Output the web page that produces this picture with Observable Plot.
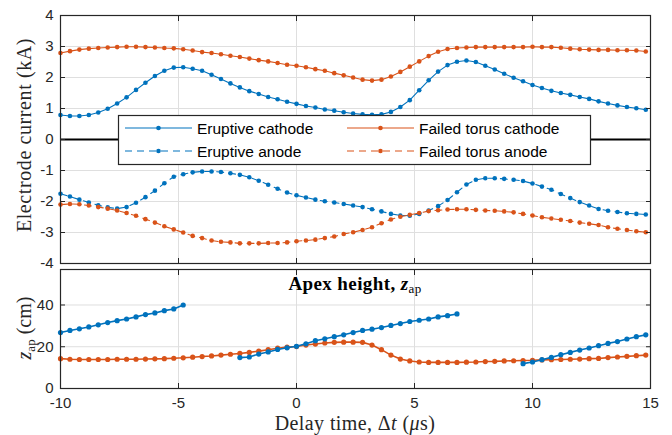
<!DOCTYPE html>
<html><head><meta charset="utf-8">
<script src="https://cdn.jsdelivr.net/npm/d3@7"></script>
<script src="https://cdn.jsdelivr.net/npm/@observablehq/plot@0.6"></script>
<style>
body{margin:0;background:#fff;}
#chart{position:relative;width:672px;height:435px;overflow:hidden;}
#chart svg{display:block;}
</style></head><body><div id="chart"></div>
<script>
// Delay time (μs)
const t = [-10,-9.6,-9.2,-8.8,-8.4,-8.0,-7.6,-7.2,-6.8,-6.4,-6.0,-5.6,-5.2,-4.8,-4.4,-4.0,-3.6,-3.2,-2.8,-2.4,-2.0,-1.6,
  -1.2,-0.8,-0.4,0,0.4,0.8,1.2,1.6,2.0,2.4,2.8,3.2,3.6,4.0,4.4,4.8,5.2,5.6,6.0,6.4,6.8,
  7.2,7.6,8.0,8.4,8.8,9.2,9.6,10.0,10.4,10.8,11.2,11.6,12.0,12.4,12.8,13.2,13.6,14.0,14.4,14.8];

// Electrode current (kA)
const eruptiveCathode = [0.79,0.76,0.76,0.79,0.87,0.99,1.16,1.36,1.60,1.83,2.05,2.22,2.32,2.33,2.28,2.22,2.09,1.95,1.81,1.68,1.56,1.47,
  1.37,1.30,1.22,1.15,1.08,1.03,0.97,0.93,0.88,0.84,0.81,0.80,0.81,0.89,1.05,1.27,1.59,1.91,2.19,2.40,2.51,
  2.55,2.50,2.38,2.26,2.12,1.99,1.88,1.76,1.66,1.57,1.50,1.44,1.37,1.31,1.23,1.16,1.10,1.05,1.01,0.96];
const eruptiveAnode = [-1.75,-1.84,-1.94,-2.03,-2.12,-2.19,-2.23,-2.18,-2.04,-1.86,-1.65,-1.41,-1.20,-1.12,-1.06,-1.03,-1.03,-1.05,-1.09,-1.14,-1.22,-1.33,
  -1.46,-1.59,-1.71,-1.80,-1.87,-1.94,-1.99,-2.03,-2.08,-2.13,-2.18,-2.25,-2.32,-2.40,-2.45,-2.46,-2.40,-2.29,-2.15,-1.95,-1.70,
  -1.45,-1.30,-1.25,-1.25,-1.27,-1.30,-1.34,-1.42,-1.52,-1.62,-1.76,-1.89,-2.02,-2.13,-2.24,-2.30,-2.34,-2.38,-2.40,-2.42];
const failedCathode = [2.79,2.85,2.90,2.93,2.95,2.97,2.98,2.99,2.99,2.98,2.97,2.95,2.94,2.91,2.87,2.82,2.79,2.75,2.70,2.66,2.61,2.56,
  2.52,2.47,2.41,2.38,2.33,2.27,2.22,2.14,2.07,2.00,1.93,1.90,1.93,2.03,2.18,2.35,2.52,2.69,2.83,2.92,2.95,
  2.97,2.98,2.98,2.98,2.98,2.98,2.98,2.99,2.98,2.98,2.96,2.93,2.91,2.90,2.89,2.89,2.88,2.88,2.87,2.84];
const failedAnode = [-2.10,-2.08,-2.09,-2.13,-2.18,-2.23,-2.29,-2.37,-2.46,-2.57,-2.68,-2.80,-2.90,-3.00,-3.11,-3.18,-3.26,-3.30,-3.32,-3.35,-3.35,-3.35,
  -3.34,-3.34,-3.32,-3.28,-3.26,-3.23,-3.18,-3.13,-3.05,-2.99,-2.92,-2.83,-2.70,-2.58,-2.49,-2.43,-2.37,-2.31,-2.28,-2.26,-2.25,
  -2.25,-2.27,-2.29,-2.30,-2.32,-2.35,-2.40,-2.45,-2.51,-2.55,-2.59,-2.63,-2.68,-2.72,-2.76,-2.83,-2.88,-2.92,-2.96,-2.99];

// Apex height z_ap (cm)
const eruptiveApex = [26.8,27.8,28.6,29.5,30.5,31.6,32.5,33.3,34.3,35.4,36.2,37.3,38.1,40.0,null,null,null,null,null,14.8,15.1,16.5,
  17.5,18.7,19.5,20.2,21.4,22.9,23.8,24.8,25.7,26.8,27.8,28.4,29.2,30.2,31.1,32.1,32.7,33.3,34.3,34.9,35.7,
  null,null,null,null,null,null,11.9,12.7,13.8,14.9,16.2,17.3,18.4,19.4,20.5,21.6,22.5,23.7,24.8,25.7];
const failedApex = [14.3,14.0,13.9,13.9,13.9,13.9,14.0,14.0,14.0,14.1,14.2,14.3,14.5,14.7,15.0,15.3,15.6,16.0,16.4,16.8,17.3,17.9,
  18.6,19.3,19.8,20.1,20.8,21.3,21.8,22.1,22.2,22.2,22.1,20.8,18.6,16.0,14.1,13.2,12.7,12.5,12.5,12.5,12.5,
  12.6,12.7,12.9,13.0,13.2,13.3,13.4,13.5,13.7,13.8,13.9,14.0,14.1,14.3,14.4,14.8,15.1,15.4,15.7,16.0];

const seriesNames = ["Eruptive cathode","Eruptive anode","Failed torus cathode","Failed torus anode"];
const xTicks = [-10,-5,0,5,10,15];
const xTickLabels = ["-10","-5","0","5","10","15"];
const currentTicks = [-4,-3,-2,-1,0,1,2,3,4];
const currentTickLabels = ["-4","-3","-2","-1","0","1","2","3","4"];
const apexTicks = [0,20,40];
const apexTickLabels = ["0","20","40"];

const blue = "#0072BD", orange = "#D95319", gridC = "#dfdfdf", axisC = "#262626";
const rows = (vals) => t.map((x, i) => ({t: x, v: vals[i]}));

const baseStyle = {fontFamily: "'Liberation Sans', Arial, sans-serif", fontSize: "15px", color: axisC, background: "transparent", overflow: "visible"};
const noLbl = () => "";

function innerTicks(yTicks) {
  return [
    Plot.axisY(yTicks, {anchor: "left", tickSize: -5, tickFormat: noLbl, label: null, stroke: axisC}),
    Plot.axisY(yTicks, {anchor: "right", tickSize: -5, tickFormat: noLbl, label: null, stroke: axisC}),
    Plot.axisX(xTicks, {anchor: "bottom", tickSize: -5, tickFormat: noLbl, label: null, stroke: axisC}),
    Plot.axisX(xTicks, {anchor: "top", tickSize: -5, tickFormat: noLbl, label: null, stroke: axisC})
  ];
}

const lineOpt = (color, dash) => ({x: "t", y: "v", stroke: color, strokeWidth: 1.1, strokeDasharray: dash});
const dotOpt = (color, r) => ({x: "t", y: "v", fill: color, r: r});

const topPlot = Plot.plot({
  width: 672, height: 266,
  marginLeft: 60, marginRight: 22, marginTop: 15, marginBottom: 3,
  x: {domain: [-10, 15], label: null},
  y: {domain: [-4, 4], label: null},
  style: baseStyle,
  marks: [
    Plot.gridX(xTicks, {stroke: gridC, strokeOpacity: 1}),
    Plot.gridY(currentTicks, {stroke: gridC, strokeOpacity: 1}),
    Plot.ruleY([0], {stroke: "#000", strokeWidth: 2}),
    Plot.line(rows(eruptiveCathode), lineOpt(blue, null)),
    Plot.dot(rows(eruptiveCathode), dotOpt(blue, 2.3)),
    Plot.line(rows(eruptiveAnode), lineOpt(blue, "7,5")),
    Plot.dot(rows(eruptiveAnode), dotOpt(blue, 2.3)),
    Plot.line(rows(failedCathode), lineOpt(orange, null)),
    Plot.dot(rows(failedCathode), dotOpt(orange, 2.3)),
    Plot.line(rows(failedAnode), lineOpt(orange, "7,5")),
    Plot.dot(rows(failedAnode), dotOpt(orange, 2.3)),
    Plot.axisY(currentTicks, {anchor: "left", tickSize: 0, tickPadding: 7, tickFormat: (d, i) => currentTickLabels[i], label: null, fill: axisC}),
    ...innerTicks(currentTicks),
    Plot.frame({stroke: axisC, strokeWidth: 1.2})
  ]
});

const bottomPlot = Plot.plot({
  width: 672, height: 169,
  marginLeft: 60, marginRight: 22, marginTop: 3, marginBottom: 47,
  x: {domain: [-10, 15], label: null},
  y: {domain: [0, 57], label: null},
  style: baseStyle,
  marks: [
    Plot.gridX(xTicks, {stroke: gridC, strokeOpacity: 1}),
    Plot.gridY(apexTicks, {stroke: gridC, strokeOpacity: 1}),
    Plot.line(rows(failedApex), {...lineOpt(orange, null), strokeWidth: 1.6}),
    Plot.dot(rows(failedApex), dotOpt(orange, 2.6)),
    Plot.line(rows(eruptiveApex), {...lineOpt(blue, null), strokeWidth: 1.6}),
    Plot.dot(rows(eruptiveApex), dotOpt(blue, 2.6)),
    Plot.axisY(apexTicks, {anchor: "left", tickSize: 0, tickPadding: 7, tickFormat: (d, i) => apexTickLabels[i], label: null, fill: axisC}),
    Plot.axisX(xTicks, {anchor: "bottom", tickSize: 0, tickPadding: 9, tickFormat: (d, i) => xTickLabels[i], label: null, fill: axisC}),
    ...innerTicks(apexTicks),
    Plot.frame({stroke: axisC, strokeWidth: 1.2})
  ]
});

const root = document.getElementById("chart");
root.appendChild(topPlot);
root.appendChild(bottomPlot);

const serif = "'Liberation Serif', 'Times New Roman', serif";

// Top panel y label
const ts = d3.select(topPlot);
ts.append("text").attr("transform", "translate(31,135) rotate(-90)")
  .attr("text-anchor", "middle").attr("font-family", serif).attr("font-size", 20)
  .attr("letter-spacing", 0.6).attr("fill", axisC).text("Electrode current (kA)");

// Legend
const lg = ts.append("g").attr("text-anchor", "start");
lg.append("rect").attr("x", 118.5).attr("y", 115.5).attr("width", 472).attr("height", 49)
  .attr("fill", "white").attr("stroke", axisC).attr("stroke-width", 1.2);
const entries = [
  {name: seriesNames[0], color: blue, dash: null, x: 125, y: 128},
  {name: seriesNames[1], color: blue, dash: "7,5", x: 125, y: 151},
  {name: seriesNames[2], color: orange, dash: null, x: 347, y: 128},
  {name: seriesNames[3], color: orange, dash: "7,5", x: 347, y: 151}
];
for (const e of entries) {
  lg.append("line").attr("x1", e.x).attr("x2", e.x + 67).attr("y1", e.y).attr("y2", e.y)
    .attr("stroke", e.color).attr("stroke-width", 1.1).attr("stroke-dasharray", e.dash);
  lg.append("circle").attr("cx", e.x + 33.5).attr("cy", e.y).attr("r", 2.3).attr("fill", e.color);
  lg.append("text").attr("x", e.x + 72).attr("y", e.y + 5.5).attr("text-anchor", "start")
    .attr("font-family", "'Liberation Sans', Arial, sans-serif")
    .attr("font-size", 15.5).attr("fill", "#000").text(e.name);
}

// Bottom panel labels
const bs = d3.select(bottomPlot);
const title = bs.append("text").attr("x", 355).attr("y", 24).attr("text-anchor", "middle")
  .attr("font-family", serif).attr("font-size", 19).attr("letter-spacing", 0.4).attr("font-weight", "bold").attr("fill", "#000");
title.append("tspan").text("Apex height, ");
title.append("tspan").attr("font-style", "italic").text("z");
title.append("tspan").attr("font-size", 13).attr("font-weight", "normal").attr("dy", 3).text("ap");

const yl = bs.append("text").attr("transform", "translate(31,62) rotate(-90)").attr("text-anchor", "middle")
  .attr("font-family", serif).attr("font-size", 20).attr("fill", axisC);
yl.append("tspan").attr("font-style", "italic").text("z");
yl.append("tspan").attr("font-size", 13).attr("dy", 4).text("ap");
yl.append("tspan").attr("dy", -4).text(" (cm)");

const xl = bs.append("text").attr("x", 355).attr("y", 164).attr("text-anchor", "middle")
  .attr("font-family", serif).attr("font-size", 20).attr("letter-spacing", 0.4).attr("fill", axisC);
xl.append("tspan").text("Delay time, Δ");
xl.append("tspan").attr("font-style", "italic").text("t");
xl.append("tspan").text(" (");
xl.append("tspan").attr("font-style", "italic").text("μ");
xl.append("tspan").text("s)");
</script></body></html>
